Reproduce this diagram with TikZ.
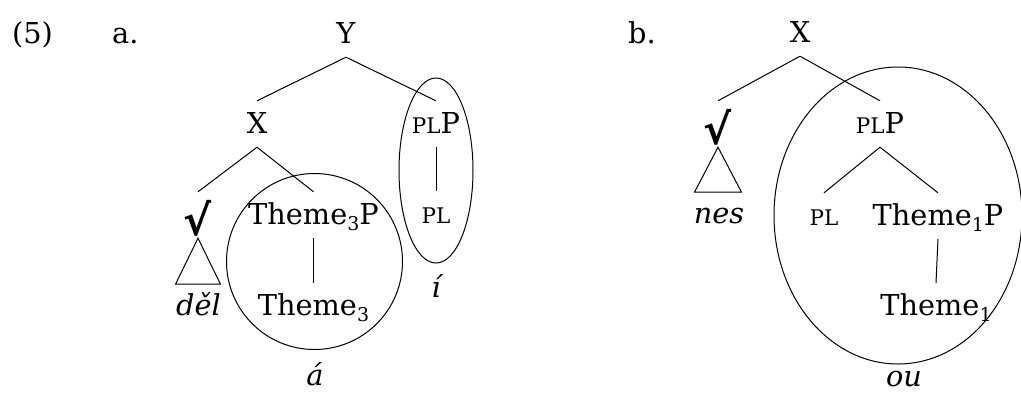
\documentclass[tikz,border=0pt]{standalone}
\usepackage{fontspec}
\setmainfont{DejaVu Serif}
\newfontfamily\symf{DejaVu Sans}
\newcommand\tsub[1]{\raisebox{-6pt}{\fontsize{19}{19}\selectfont #1}}
\newcommand\plsc{{\fontsize{21.5}{22}\selectfont PL}}
\newcommand\rootsym{\raisebox{-11pt}{\symf\bfseries\fontsize{42}{42}\selectfont √}}
\begin{document}
\begin{tikzpicture}[x=1pt,y=-1pt,
  tn/.style={anchor=base, inner xsep=0pt, inner ysep=11pt, text height=21pt, text depth=3pt, font=\fontsize{28.8}{30}\selectfont},
  lbl/.style={anchor=base, inner sep=0pt, font=\fontsize{28.8}{30}\selectfont},
  ex/.style={lbl, font=\fontsize{28.8}{30}\selectfont\itshape},
  edge/.style={line width=1pt},
  ring/.style={line width=1pt}]
\useasboundingbox (0,0) rectangle (1021,392);
% labels
\node[lbl, anchor=base west] (n5) at (12,43) {(5)};
\node[lbl, anchor=base west] (la) at (112,43) {a.};
\node[lbl, anchor=base west] (lb) at (628,43) {b.};
% tree a
\node[tn] (Y) at (346,43) {Y};
\node[tn] (X1) at (257,133) {X};
\node[tn] (PLPa) at (436,133) {\plsc P};
\node[tn] (ra) at (198,224) {\rootsym};
\node[tn] (T3P) at (313.5,224) {Theme\tsub{3}P};
\node[tn] (PLa) at (436,223) {\plsc};
\node[tn] (T3) at (313.5,315) {Theme\tsub{3}};
\node[ex] (del) at (198.5,315) {děl};
\node[ex] (aa) at (315,385) {á};
\node[ex] (ii) at (436,297) {í};
\draw[edge] (Y.south) -- (X1.north);
\draw[edge] (Y.south) -- (PLPa.north);
\draw[edge] (X1.south) -- (ra.north);
\draw[edge] (X1.south) -- (T3P.north);
\draw[edge] (T3P.south) -- (T3.north);
\draw[edge] (PLPa.south) -- (PLa.north);
\draw[edge] (ra.south) -- ++(-22.5,46) -- ++(45,0) -- cycle;
\draw[ring] (314.5,261.5) circle [radius=88];
\draw[ring] (436,170.5) ellipse [x radius=37, y radius=92.5];
% tree b
\node[tn] (X2) at (800,42) {X};
\node[tn] (rb) at (718,133) {\rootsym};
\node[tn] (PLPb) at (880,133) {\plsc P};
\node[tn] (PLb) at (824,225) {\plsc};
\node[tn] (T1P) at (938,225) {Theme\tsub{1}P};
\node[tn] (T1) at (936,315) {Theme\tsub{1}};
\node[ex] (nes) at (719,223) {nes};
\node[ex] (ou) at (904,386) {ou};
\draw[edge] (X2.south) -- (rb.north);
\draw[edge] (X2.south) -- (PLPb.north);
\draw[edge] (PLPb.south) -- (PLb.north);
\draw[edge] (PLPb.south) -- (T1P.north);
\draw[edge] (T1P.south) -- (T1.north);
\draw[edge] (rb.south) -- ++(-23.5,45) -- ++(47,0) -- cycle;
\draw[ring] (898,215.5) ellipse [x radius=124, y radius=148.5];
\end{tikzpicture}
\end{document}
